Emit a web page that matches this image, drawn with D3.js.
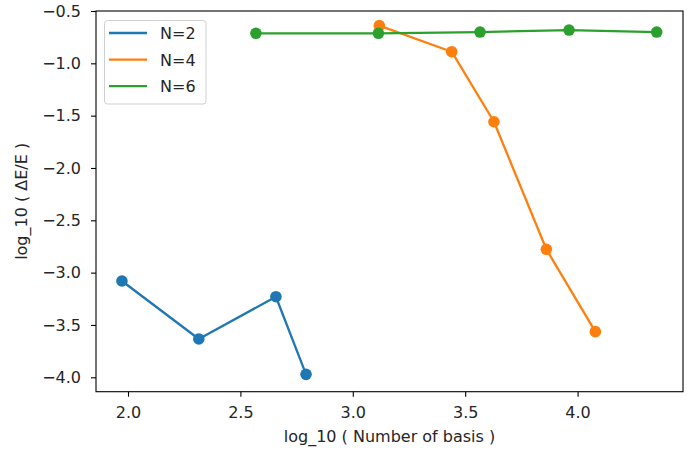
<!DOCTYPE html>
<html><head><meta charset="utf-8">
<script src="https://cdn.jsdelivr.net/npm/d3@7"></script>
<style>
body{margin:0;background:#fff;}
text{font-family:"DejaVu Sans",sans-serif;}
</style></head>
<body><svg id="c" width="698" height="450"></svg>
<script>
const seriesNames = ["N=2","N=4","N=6"];
const colors = ["#1f77b4","#ff7f0e","#2ca02c"];
const xN2 = [1.973, 2.315, 2.658, 2.792];
const yN2 = [-3.080, -3.634, -3.230, -3.972];
const xN4 = [3.118, 3.440, 3.628, 3.861, 4.079];
const yN4 = [-0.640, -0.889, -1.558, -2.777, -3.564];
const xN6 = [2.569, 3.114, 3.566, 3.962, 4.352];
const yN6 = [-0.713, -0.713, -0.701, -0.682, -0.701];
const xTicks = [2.0, 2.5, 3.0, 3.5, 4.0];
const yTicks = [-0.5, -1.0, -1.5, -2.0, -2.5, -3.0, -3.5, -4.0];

const svg = d3.select("#c");
const L = 96, R = 683, T = 11, B = 391.7;
const FS = 16;
const x = d3.scaleLinear().domain([1.8576, 4.469]).range([L, R]);
const y = d3.scaleLinear().domain([-4.1376, -0.5]).range([B, T]);
const fmt = v => (v < 0 ? "\u2212" : "") + Math.abs(v).toFixed(1);

const xAxis = svg.append("g").attr("transform", `translate(0,${B})`)
  .call(d3.axisBottom(x).tickValues(xTicks).tickFormat(fmt).tickSize(5).tickPadding(9.5));
const yAxis = svg.append("g").attr("transform", `translate(${L},0)`)
  .call(d3.axisLeft(y).tickValues(yTicks).tickFormat(fmt).tickSize(5).tickPadding(10));
[xAxis, yAxis].forEach(g => {
  g.attr("font-size", FS).attr("font-family", '"DejaVu Sans",sans-serif');
  g.select(".domain").remove();
  g.selectAll("line").attr("stroke", "#000").attr("stroke-width", 1.1);
  g.selectAll("text").attr("font-size", FS).attr("fill", "#262626");
});

const data = [
  {name: seriesNames[0], xs: xN2, ys: yN2},
  {name: seriesNames[1], xs: xN4, ys: yN4},
  {name: seriesNames[2], xs: xN6, ys: yN6}
];
const line = d3.line().x(d => x(d[0])).y(d => y(d[1]));
data.forEach((s, i) => {
  const pts = s.xs.map((v, j) => [v, s.ys[j]]);
  const g = svg.append("g");
  g.append("path").attr("d", line(pts)).attr("fill", "none")
    .attr("stroke", colors[i]).attr("stroke-width", 2.3).attr("stroke-linejoin", "round");
  g.selectAll("circle").data(pts).join("circle")
    .attr("cx", d => x(d[0])).attr("cy", d => y(d[1])).attr("r", 5.8).attr("fill", colors[i]);
});

svg.append("rect").attr("x", L).attr("y", T).attr("width", R - L).attr("height", B - T)
  .attr("fill", "none").attr("stroke", "#000").attr("stroke-width", 1.1);

// legend
const lg = svg.append("g");
lg.append("rect").attr("x", 104.5).attr("y", 20.5).attr("width", 101.5).attr("height", 83.5)
  .attr("rx", 3).attr("fill", "#fff").attr("fill-opacity", 0.8).attr("stroke", "#d0d0d0");
seriesNames.forEach((n, i) => {
  const yy = 33 + i * 26.6;
  lg.append("line").attr("x1", 109).attr("x2", 147).attr("y1", yy).attr("y2", yy)
    .attr("stroke", colors[i]).attr("stroke-width", 2.3);
  lg.append("text").attr("x", 160).attr("y", yy + 6).attr("font-size", FS)
    .attr("fill", "#262626").text(n);
});

svg.append("text").attr("x", (L + R) / 2).attr("y", 442).attr("text-anchor", "middle")
  .attr("font-size", FS).attr("fill", "#262626").text("log_10 ( Number of basis )");
svg.append("text").attr("transform", `translate(27,${(T + B) / 2}) rotate(-90)`)
  .attr("text-anchor", "middle").attr("font-size", FS).attr("fill", "#262626")
  .text("log_10 ( \u0394E/E )");
</script></body></html>
